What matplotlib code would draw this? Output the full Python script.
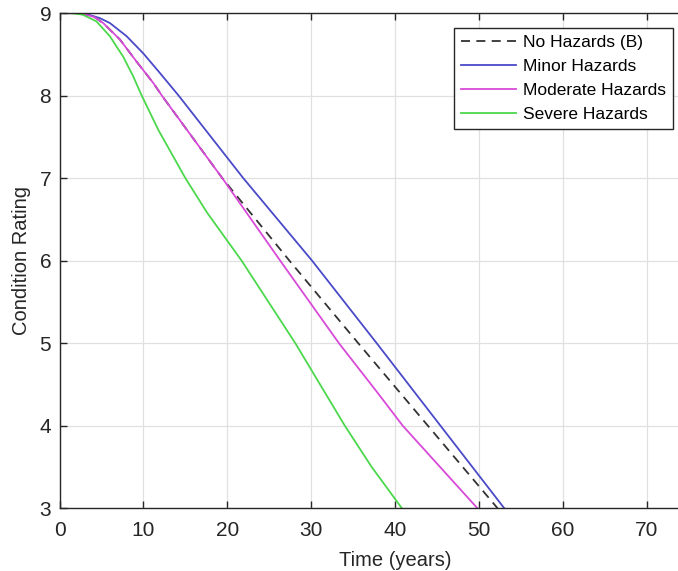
import numpy as np
import matplotlib
matplotlib.use('Agg')
import matplotlib.pyplot as plt

# Curvas (tempo em anos, nota de condição)
t_minor = [0.5, 2.0, 3.5, 4.8, 6.0, 8.0, 10.0, 12.0, 14.2, 21.9, 30.1, 37.8, 45.4, 53.0]
r_minor = [9.0, 9.0, 8.98, 8.94, 8.88, 8.72, 8.51, 8.27, 8.0, 7.0, 6.0, 5.0, 4.0, 3.0]

t_moderate = [0.5, 2.0, 3.2, 4.2, 5.2, 7.2, 9.2, 11.2, 12.2, 19.4, 26.3, 33.3, 37.9, 40.9, 49.8]
r_moderate = [9.0, 9.0, 8.98, 8.95, 8.88, 8.68, 8.41, 8.15, 8.0, 7.0, 6.0, 5.0, 4.4, 4.0, 3.0]

t_severe = [0.5, 1.5, 2.8, 4.4, 6.0, 7.6, 8.8, 9.8, 11.8, 15.0, 17.6, 21.7, 28.1, 34.0, 37.2, 40.8]
r_severe = [9.0, 9.0, 8.98, 8.9, 8.72, 8.47, 8.23, 8.0, 7.58, 7.0, 6.58, 6.0, 5.0, 4.0, 3.5, 3.0]

# sem danos: igual à moderada até ~19 anos, depois diverge
t_base = t_moderate[:10] + [27.4, 35.6, 43.9, 52.2]
r_base = r_moderate[:10] + [6.0, 5.0, 4.0, 3.0]

x_ticks = [0, 10, 20, 30, 40, 50, 60, 70]
y_ticks = [3, 4, 5, 6, 7, 8, 9]

plt.rcParams['font.family'] = ['Liberation Sans', 'DejaVu Sans']

fig = plt.figure(figsize=(6.78, 5.71), dpi=100)
ax = fig.add_axes([0.0878, 0.110, 0.990, 0.867])

ax.plot(t_base, r_base, color='#333333', linestyle=(0, (5, 3.5)), linewidth=1.3, label='No Hazards (B)')
ax.plot(t_minor, r_minor, color='#4a4ac8', linewidth=1.3, label='Minor Hazards')
ax.plot(t_moderate, r_moderate, color='#d84ad8', linewidth=1.3, label='Moderate Hazards')
ax.plot(t_severe, r_severe, color='#4cd84c', linewidth=1.3, label='Severe Hazards')

ax.set_xlim(0, 80)
ax.set_ylim(3, 9)
ax.set_xticks(x_ticks)
ax.set_xticks([80], minor=True)
ax.set_yticks(y_ticks)
ax.tick_params(direction='in', top=True, right=False, length=5, width=1,
               labelsize=15, colors='#262626')
ax.tick_params(axis='x', pad=9)
ax.tick_params(axis='y', pad=6)
ax.grid(True, color='#e0e0e0', linewidth=0.9)
ax.set_axisbelow(True)
for side in ['left', 'bottom', 'top']:
    ax.spines[side].set_color('#262626')
    ax.spines[side].set_linewidth(1.0)
ax.spines['right'].set_visible(False)

ax.set_xlabel('Time (years)', fontsize=14.5, color='#262626', labelpad=8)
ax.set_ylabel('Condition Rating', fontsize=14.5, color='#262626', labelpad=6)

leg = ax.legend(loc='upper right', bbox_to_anchor=(0.9136, 0.970), fontsize=12.5,
                frameon=True, fancybox=False, framealpha=1, edgecolor='#262626',
                handlelength=3.2, handletextpad=0.4, borderpad=0.38, labelspacing=0.52,
                borderaxespad=0)
leg.get_frame().set_linewidth(1.0)

fig.savefig('out.png', dpi=100)
